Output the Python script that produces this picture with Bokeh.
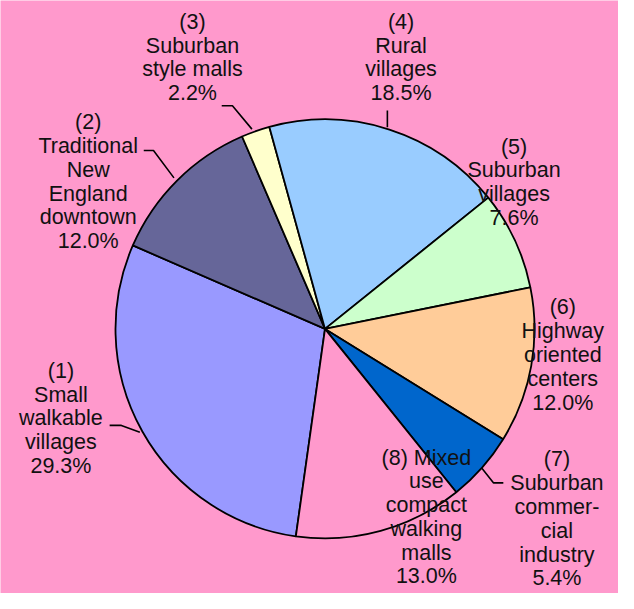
import math
from bokeh.plotting import figure
from bokeh.models import Range1d, ColumnDataSource
from bokeh.core.properties import value
from bokeh.embed import file_html
from bokeh.resources import INLINE

# ---- data ----
numbers = ["(1)", "(2)", "(3)", "(4)", "(5)", "(6)", "(7)", "(8)"]
names = ["Small\nwalkable\nvillages", "Traditional\nNew\nEngland\ndowntown",
         "Suburban\nstyle malls", "Rural\nvillages", "Suburban\nvillages",
         "Highway\noriented\ncenters", "Suburban\ncommer-\ncial\nindustry",
         "Mixed\nuse\ncompact\nwalking\nmalls"]
shares = [29.3, 12.0, 2.2, 18.5, 7.6, 12.0, 5.4, 13.0]
colors = ["#9999FF", "#666699", "#FFFFCC", "#99CCFF", "#CCFFCC", "#FFCC99", "#0066CC", "#FF99CC"]
number_inline = [False, False, False, False, False, False, False, True]

# ---- layout (reference pixel coordinates, scaled to fit the window) ----
W, H = 618, 593
S = 0.9745
BG = "#FF99CC"
def fx(x): return x * S
def fy(y): return H - y * S

cx, cy, R = 333, 337, 215
start_cw = 188.0  # clockwise degrees from 12 o'clock where slice 1 starts
label_pos = [(62, 380), (90, 125), (197, 22), (411, 22), (527, 150), (577, 315), (571, 471), (437, 469)]
line_gap = 24.4
leaders = [
    [(112, 436), (124, 436), (143, 443)],
    [(147, 154), (157, 154), (178, 182)],
    [(227, 108), (238, 108), (258, 132)],
    [(397, 113), (397, 130)],
    None,
    None,
    [(494, 480), (506, 495), (516, 495)],
    None,
]

p = figure(width=W, height=H, output_backend="svg", toolbar_location=None,
           x_range=Range1d(0, W), y_range=Range1d(0, H), min_border=0)
p.axis.visible = False
p.grid.visible = False
p.outline_line_color = None
p.background_fill_color = BG
p.border_fill_color = BG

total = sum(shares)
starts, ends = [], []
cum = start_cw
for s in shares:
    a0 = cum
    a1 = cum + s / total * 360.0
    starts.append(math.radians(90 - a0))
    ends.append(math.radians(90 - a1))
    cum = a1

src = ColumnDataSource(dict(start=starts, end=ends, color=colors,
                            x=[fx(cx)] * len(shares), y=[fy(cy)] * len(shares)))
p.wedge(x="x", y="y", radius=R * S, start_angle="start", end_angle="end", direction="clock",
        fill_color="color", line_color="black", line_width=1.8, source=src)

# leader lines
lx, ly = [], []
for seg in leaders:
    if seg:
        lx.append([fx(a) for a, b in seg])
        ly.append([fy(b) for a, b in seg])
p.multi_line(xs=lx, ys=ly, line_color="black", line_width=1.6)

# labels
tx, ty, tt = [], [], []
for i in range(len(shares)):
    lines = names[i].split("\n")
    if number_inline[i]:
        lines[0] = numbers[i] + " " + lines[0]
    else:
        lines = [numbers[i]] + lines
    lines.append(f"{shares[i]:.1f}%")
    x0, y0 = label_pos[i]
    for k, t in enumerate(lines):
        tx.append(fx(x0))
        ty.append(fy(y0 + k * line_gap))
        tt.append(t)
p.text(x=tx, y=ty, text=tt, text_align="center", text_baseline="middle",
       text_font=value("Liberation Sans"), text_font_size="21.5px", text_color="#111111")

open("out.html", "w").write(file_html(p, INLINE))
